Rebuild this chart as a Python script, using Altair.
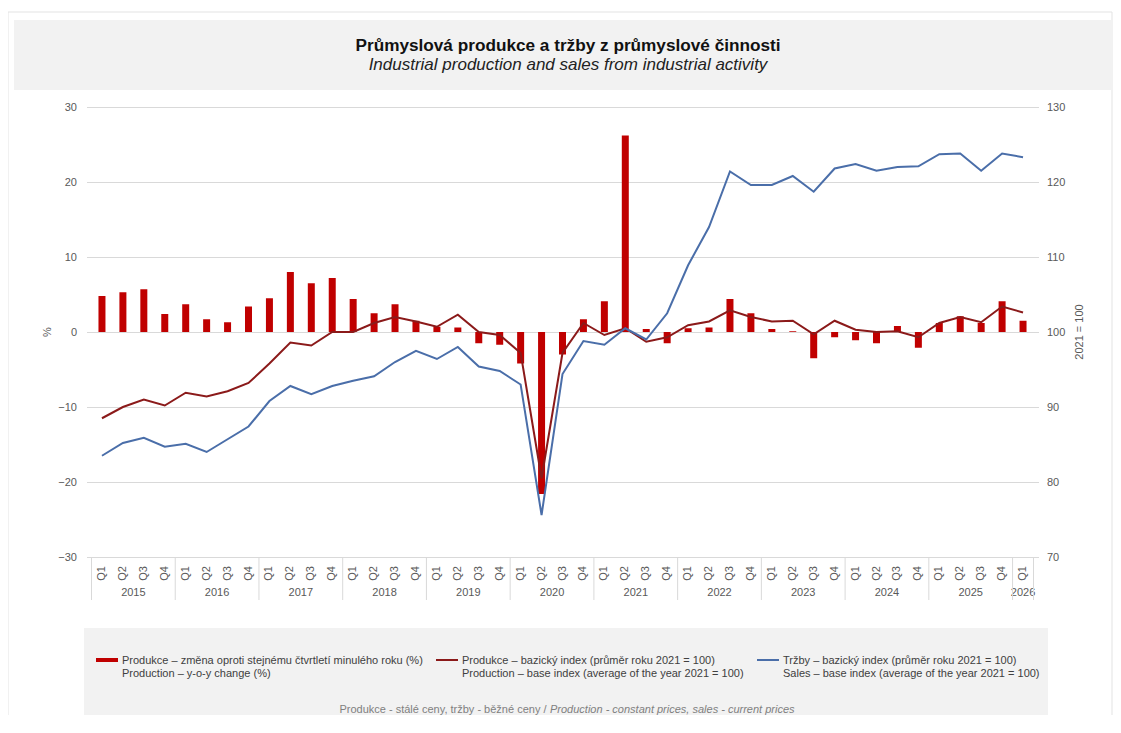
import altair as alt
import pandas as pd

FONT = "Liberation Sans"

# ---------------- data ----------------
years = [2015, 2016, 2017, 2018, 2019, 2020, 2021, 2022, 2023, 2024, 2025, 2026]
quarter_labels = ["Q1", "Q2", "Q3", "Q4"]

yoy = [4.8, 5.3, 5.7, 2.4,
       3.7, 1.7, 1.3, 3.4,
       4.5, 8.0, 6.5, 7.2,
       4.4, 2.5, 3.7, 1.5,
       0.7, 0.6, -1.5, -1.7,
       -4.2, -21.6, -3.0, 1.7,
       4.1, 26.2, 0.4, -1.5,
       0.5, 0.6, 4.4, 2.5,
       0.4, 0.1, -3.5, -0.7,
       -1.1, -1.5, 0.8, -2.1,
       1.2, 2.1, 1.2, 4.1,
       1.5]

prod_index = [88.5, 90.0, 91.0, 90.2,
              91.9, 91.4, 92.1, 93.2,
              95.8, 98.6, 98.2, 100.0,
              100.0, 101.2, 102.0, 101.4,
              100.7, 102.3, 100.0, 99.6,
              97.2, 80.5, 97.2, 101.2,
              99.6, 100.5, 98.7, 99.3,
              100.9, 101.4, 102.9, 102.0,
              101.4, 101.5, 99.7, 101.5,
              100.3, 100.0, 100.1, 99.3,
              101.2, 102.0, 101.3, 103.4,
              102.6]

sales_index = [83.5, 85.2, 85.9, 84.7,
               85.1, 84.0, 85.7, 87.4,
               90.8, 92.8, 91.7, 92.8,
               93.5, 94.1, 96.0, 97.5,
               96.4, 98.0, 95.4, 94.8,
               93.0, 75.6, 94.4, 98.8,
               98.3, 100.5, 99.0, 102.5,
               108.9, 114.0, 121.4, 119.6,
               119.6, 120.8, 118.7, 121.8,
               122.4, 121.5, 122.0, 122.1,
               123.7, 123.8, 121.5, 123.8,
               123.3]

left_ticks = [-30, -20, -10, 0, 10, 20, 30]
right_ticks = [70, 80, 90, 100, 110, 120, 130]

title_cz = "Průmyslová produkce a tržby z průmyslové činnosti"
title_en = "Industrial production and sales from industrial activity"
legend_cz = ["Produkce – změna oproti stejnému čtvrtletí minulého roku (%)",
             "Produkce – bazický index (průměr roku 2021 = 100)",
             "Tržby – bazický index (průměr roku 2021 = 100)"]
legend_en = ["Production – y-o-y change (%)",
             "Production – base index (average of the year 2021 = 100)",
             "Sales – base index (average of the year 2021 = 100)"]
note_cz = "Produkce - stálé ceny, tržby - běžné ceny /"
note_en = "Production - constant prices, sales - current prices"
left_title = "%"
right_title = "2021 = 100"

# ---------------- tables ----------------
n = len(yoy)
rows = []
for k in range(n):
    rows.append({"i": k, "year": years[k // 4], "q": quarter_labels[k % 4],
                 "yoy": yoy[k], "prod": prod_index[k], "sales": sales_index[k]})
df = pd.DataFrame(rows)

df_years = df.groupby("year", as_index=False)["i"].mean().rename(columns={"i": "mid"})
starts = df.groupby("year")["i"].min().tolist()
bounds = [s - 0.5 for s in starts] + [n - 0.5]
df_bounds = pd.DataFrame({"b": bounds})

W, H = 952, 450
BAR = "#c00000"
PROD = "#8b1a1a"
SALES = "#4a6ea9"
GRID = "#d9d9d9"
LAB = "#595959"

xscale = alt.Scale(domain=[-0.5, n - 0.5], nice=False, zero=False)


def one():
    return pd.DataFrame({"a": [0]})


def rect(x1, x2, y1, y2, fill, stroke=None):
    kw = dict(fill=fill)
    if stroke is not None:
        kw.update(stroke=stroke, strokeWidth=1)
    return alt.Chart(one()).mark_rect(**kw).encode(
        x=alt.value(x1), x2=alt.value(x2), y=alt.value(y1), y2=alt.value(y2))


def txt(s, x, y, size=11, color="#404040", align="left", weight="normal",
        style="normal", angle=0):
    return alt.Chart(pd.DataFrame({"t": [s]})).mark_text(
        align=align, baseline="middle", fontSize=size, color=color,
        fontWeight=weight, fontStyle=style, angle=angle, font=FONT
    ).encode(x=alt.value(x), y=alt.value(y), text="t:N")


def swatch(x1, x2, y, color, width):
    return alt.Chart(one()).mark_rule(color=color, strokeWidth=width).encode(
        x=alt.value(x1), x2=alt.value(x2), y=alt.value(y))


# ---------------- decoration ----------------
border = rect(-78.5, 1025.5, -95, 640, "none", "#e3e3e3")
title_band = rect(-72.5, 1026.5, -87, -17, "#f2f2f2")
legend_band = rect(-2.5, 961.5, 521, 640, "#f2f2f2")

# ---------------- data layers ----------------
base = alt.Chart(df)

bars = base.mark_bar(color=BAR, size=7).encode(
    x=alt.X("i:Q", scale=xscale, axis=None),
    y=alt.Y("yoy:Q", scale=alt.Scale(domain=[-30, 30], nice=False),
            axis=alt.Axis(values=left_ticks, grid=True, gridColor=GRID, gridWidth=1,
                          domain=False, ticks=False, labelPadding=10,
                          labelColor=LAB, labelFontSize=11, labelFont=FONT,
                          title=None)),
    y2=alt.datum(0),
)

prod_line = base.mark_line(color=PROD, strokeWidth=2).encode(
    x=alt.X("i:Q", scale=xscale, axis=None),
    y=alt.Y("prod:Q", scale=alt.Scale(domain=[70, 130], nice=False, zero=False),
            axis=alt.Axis(orient="right", values=right_ticks, grid=False,
                          domain=False, ticks=False, labelPadding=8,
                          labelColor=LAB, labelFontSize=11, labelFont=FONT,
                          title=None)),
)

sales_line = base.mark_line(color=SALES, strokeWidth=2).encode(
    x=alt.X("i:Q", scale=xscale, axis=None),
    y=alt.Y("sales:Q", scale=alt.Scale(domain=[70, 130], nice=False, zero=False),
            axis=None),
)

q_labels = base.mark_text(angle=270, align="right", baseline="middle",
                          fontSize=11, color=LAB, font=FONT).encode(
    x=alt.X("i:Q", scale=xscale, axis=None),
    y=alt.value(H + 9),
    text="q:N",
)

year_labels = alt.Chart(df_years).mark_text(baseline="middle", align="center",
                                            fontSize=11, color=LAB, font=FONT).encode(
    x=alt.X("mid:Q", scale=xscale, axis=None),
    y=alt.value(H + 36),
    text="year:N",
)

separators = alt.Chart(df_bounds).mark_rule(color=GRID, strokeWidth=1).encode(
    x=alt.X("b:Q", scale=xscale, axis=None),
    y=alt.value(H),
    y2=alt.value(H + 43),
)

layers = [
    border, title_band, legend_band,
    bars, prod_line, sales_line,
    q_labels, year_labels, separators,
    txt(title_cz, 481.5, -61, size=17.2, color="#111111", align="center", weight="bold"),
    txt(title_en, 481.5, -42, size=17, color="#222222", align="center", style="italic"),
    txt(left_title, -38.5, 225, size=11, color=LAB, align="center", angle=270),
    txt(right_title, 993.5, 225, size=11, color=LAB, align="center", angle=270),
    swatch(9.5, 31.5, 553, BAR, 4),
    swatch(349.5, 371.5, 553, PROD, 2),
    swatch(670.5, 692.5, 553, SALES, 2),
    txt(legend_cz[0], 35.5, 554, color="#404040"),
    txt(legend_en[0], 35.5, 567, color="#404040"),
    txt(legend_cz[1], 375.5, 554, color="#404040"),
    txt(legend_en[1], 375.5, 567, color="#404040"),
    txt(legend_cz[2], 696.5, 554, color="#404040"),
    txt(legend_en[2], 696.5, 567, color="#404040"),
    txt(note_cz, 460, 603, size=11, color="#808080", align="right"),
    txt(note_en, 463.5, 603, size=11, color="#808080", align="left", style="italic"),
]

chart = alt.layer(*layers).resolve_scale(y="independent").properties(
    width=W, height=H,
    autosize=alt.AutoSizeParams(type="none"),
    padding={"left": 78.5, "top": 99, "right": 74.5, "bottom": 158},
    background="white",
).configure_view(stroke=None)

chart.save("out.html", embed_options={"renderer": "svg", "actions": False})
